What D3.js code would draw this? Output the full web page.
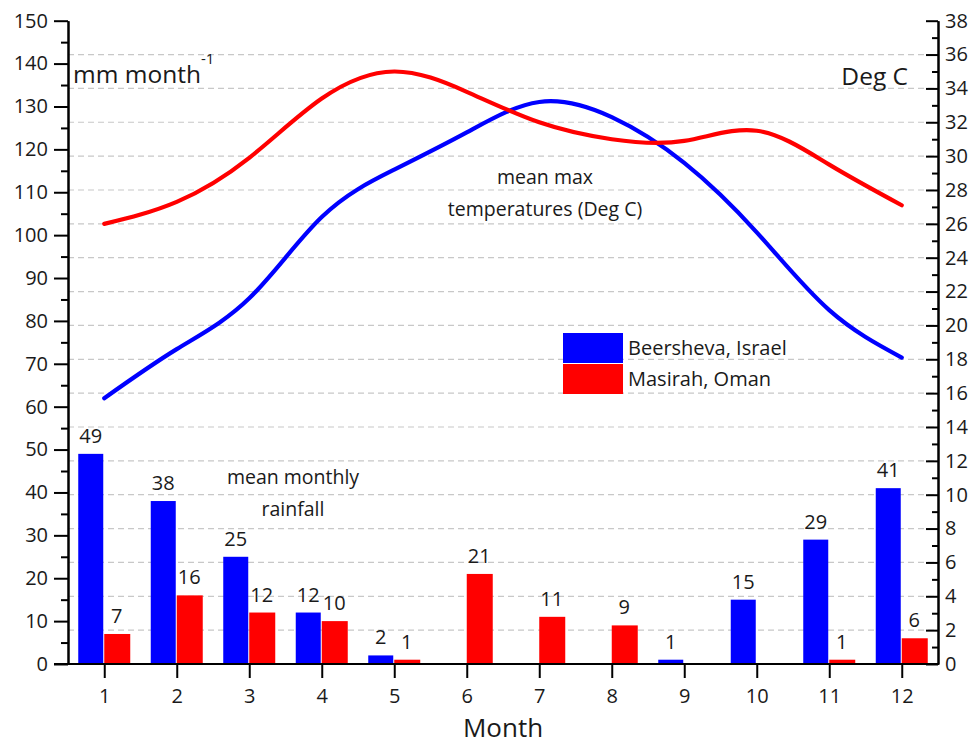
<!DOCTYPE html>
<html>
<head>
<meta charset="utf-8">
<script src="https://cdn.jsdelivr.net/npm/d3@7"></script>
<style>
  html, body { margin: 0; padding: 0; background: #fff; }
  svg { display: block; font-family: "Open Sans", "Noto Sans", sans-serif; }
</style>
</head>
<body>
<svg id="chart" width="979" height="745"></svg>
<script>
// Monthly climate data
const months = [1, 2, 3, 4, 5, 6, 7, 8, 9, 10, 11, 12];
const rainBeersheva = [49, 38, 25, 12, 2, 0, 0, 0, 1, 15, 29, 41];
const rainMasirah = [7, 16, 12, 10, 1, 21, 11, 9, 0, 0, 1, 6];
const tempBeersheva = [15.7, 18.6, 21.6, 26.4, 29.2, 31.4, 33.2, 32.3, 29.6, 25.5, 20.9, 18.1];
const tempMasirah = [26.0, 27.3, 29.9, 33.4, 35.0, 33.8, 32.0, 31.0, 30.9, 31.5, 29.5, 27.1];
const rainTicks = d3.range(0, 151, 10);
const tempTicks = d3.range(0, 39, 2);
const seriesNames = ["Beersheva, Israel", "Masirah, Oman"];
const colors = ["#0000ff", "#ff0000"];

const svg = d3.select("#chart");
const plotL = 68, plotR = 938, plotT = 20.7, plotB = 664;

const x = d3.scaleLinear().domain([0.5, 12.5]).range([plotL, plotR]);
const yL = d3.scaleLinear().domain([0, 150]).range([plotB, plotT]);
const yR = d3.scaleLinear().domain([0, 38]).range([plotB, plotT]);

// dashed grid on the temperature ticks
svg.append("g")
  .selectAll("line")
  .data(tempTicks.filter(t => t > 0 && t < 38))
  .join("line")
  .attr("x1", plotL).attr("x2", plotR)
  .attr("y1", d => yR(d)).attr("y2", d => yR(d))
  .attr("stroke", "#c8c8c8").attr("stroke-width", 1.2)
  .attr("stroke-dasharray", "6,4");

// rainfall bars
const barW = 25;
const bars = svg.append("g");
const rainSets = [rainBeersheva, rainMasirah];
const offsets = [-barW - 1, 0];
rainSets.forEach((vals, s) => {
  const rows = months.map((m, i) => ({ m, v: vals[i] })).filter(d => d.v > 0);
  bars.selectAll(null)
    .data(rows)
    .join("rect")
    .attr("x", d => x(d.m) + offsets[s])
    .attr("width", barW + (s === 1 ? 1 : 0))
    .attr("y", d => yL(d.v))
    .attr("height", d => yL(0) - yL(d.v))
    .attr("fill", colors[s]);
  bars.selectAll(null)
    .data(rows)
    .join("text")
    .attr("x", d => x(d.m) + offsets[s] + barW / 2)
    .attr("y", d => yL(d.v) - 11)
    .attr("text-anchor", "middle")
    .attr("font-size", 20)
    .attr("fill", "#1a1a1a")
    .text(d => d.v);
});

// temperature curves
const line = d3.line()
  .x((d, i) => x(months[i]))
  .y(d => yR(d))
  .curve(d3.curveNatural);
[tempBeersheva, tempMasirah].forEach((vals, s) => {
  svg.append("path")
    .attr("d", line(vals))
    .attr("fill", "none")
    .attr("stroke", colors[s])
    .attr("stroke-width", 4.2)
    .attr("stroke-linecap", "round");
});

// axes
function styleAxis(g) {
  g.selectAll("path, line").attr("stroke", "#000").attr("stroke-width", 2);
  g.selectAll("text").attr("fill", "#1a1a1a").attr("font-size", 20)
    .attr("font-family", "Open Sans, sans-serif");
}

svg.append("g")
  .attr("transform", `translate(${plotL},0)`)
  .call(d3.axisLeft(yL).tickValues(d3.range(5, 150, 10)).tickSize(7).tickSizeOuter(0).tickFormat(""))
  .call(styleAxis);
svg.append("g")
  .attr("transform", `translate(${plotL},0)`)
  .call(d3.axisLeft(yL).tickValues(rainTicks).tickSize(14).tickSizeOuter(0).tickPadding(6))
  .call(styleAxis);

svg.append("g")
  .attr("transform", `translate(${plotR},0)`)
  .call(d3.axisRight(yR).tickValues(d3.range(1, 38, 2)).tickSizeInner(-6).tickSizeOuter(0).tickFormat(""))
  .call(styleAxis);
svg.append("g")
  .attr("transform", `translate(${plotR},0)`)
  .call(d3.axisRight(yR).tickValues(tempTicks).tickSizeInner(-12).tickSizeOuter(0).tickPadding(7))
  .call(styleAxis);

svg.append("g")
  .attr("transform", `translate(0,${plotB})`)
  .call(d3.axisBottom(x).tickValues(months).tickSize(14).tickSizeOuter(0).tickPadding(11).tickFormat(d3.format("d")))
  .call(styleAxis)
  .call(g => g.select(".domain").attr("d", `M${plotL - 14},0H${plotR + 1}`));

// axis titles and annotations
svg.append("text")
  .attr("x", 503).attr("y", 737)
  .attr("text-anchor", "middle").attr("font-size", 26).attr("fill", "#1a1a1a")
  .text("Month");

const unitL = svg.append("text")
  .attr("x", 73).attr("y", 83)
  .attr("font-size", 24.5).attr("fill", "#1a1a1a");
unitL.append("tspan").text("mm month");
unitL.append("tspan").attr("dy", -19).attr("font-size", 15).text("-1");

svg.append("text")
  .attr("x", 908).attr("y", 85)
  .attr("text-anchor", "end").attr("font-size", 24.5).attr("fill", "#1a1a1a")
  .text("Deg C");

const note1 = svg.append("text")
  .attr("text-anchor", "middle").attr("font-size", 19.5).attr("fill", "#1a1a1a");
note1.append("tspan").attr("x", 545).attr("y", 184).text("mean max");
note1.append("tspan").attr("x", 545).attr("y", 216).text("temperatures (Deg C)");

const note2 = svg.append("text")
  .attr("text-anchor", "middle").attr("font-size", 19.5).attr("fill", "#1a1a1a");
note2.append("tspan").attr("x", 293).attr("y", 484).text("mean monthly");
note2.append("tspan").attr("x", 293).attr("y", 516).text("rainfall");

// legend
const legend = svg.append("g").attr("transform", "translate(563,333)");
seriesNames.forEach((name, i) => {
  legend.append("rect")
    .attr("x", 0).attr("y", i * 31)
    .attr("width", 60).attr("height", 30)
    .attr("fill", colors[i]);
  legend.append("text")
    .attr("x", 65).attr("y", i * 31 + 15)
    .attr("dy", "0.35em")
    .attr("font-size", 20).attr("fill", "#1a1a1a")
    .text(name);
});
</script>
</body>
</html>
